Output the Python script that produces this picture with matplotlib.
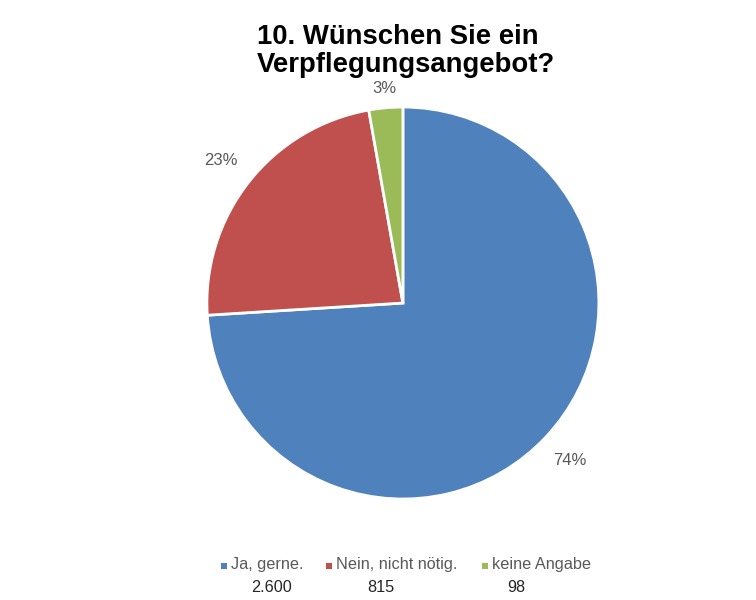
import numpy as np
import matplotlib.pyplot as plt
from matplotlib.patches import Rectangle

plt.rcParams['font.family'] = ['Liberation Sans', 'DejaVu Sans']

# data
categories = ['Ja, gerne.', 'Nein, nicht nötig.', 'keine Angabe']
counts = [2600, 815, 98]
count_labels = ['2.600', '815', '98']
colors = ['#4F81BD', '#C0504D', '#9BBB59']

fig = plt.figure(figsize=(7.56, 6.0), dpi=100)
ax = fig.add_axes([0.533 - 0.2593, 0.495 - 0.3267, 0.5185, 0.6533])

wedges, _ = ax.pie(counts, colors=colors, startangle=90, counterclock=False,
                   radius=1.0, wedgeprops=dict(edgecolor='white', linewidth=2))
ax.set_xlim(-1, 1)
ax.set_ylim(-1, 1)
ax.set_aspect('equal')
ax.axis('off')

# percentage labels outside the slices
total = sum(counts)
label_dist = [1.17, 1.18, 1.10]
for w, c, d in zip(wedges, counts, label_dist):
    ang = np.deg2rad((w.theta1 + w.theta2) / 2)
    ax.text(d * np.cos(ang), d * np.sin(ang), '%d%%' % round(100 * c / total),
            ha='center', va='center', fontsize=12, color='#595959')

fig.text(0.340, 0.960, '10. Wünschen Sie ein\nVerpflegungsangebot?', ha='left', va='top',
         fontsize=19.8, fontweight='bold', color='black', linespacing=1.12)

# legend with counts underneath
marker_x = [221, 326, 482]
for mx, cat, col, cl, vx in zip(marker_x, categories, colors, count_labels, [271, 381, 516]):
    fig.patches.append(Rectangle((mx / 756, 1 - 569 / 600), 6 / 756, 6 / 600,
                                 transform=fig.transFigure, facecolor=col, edgecolor='none'))
    fig.text((mx + 10) / 756, 1 - 565 / 600, cat, ha='left', va='center',
             fontsize=11.7, color='#595959')
    fig.text(vx / 756, 1 - 587 / 600, cl, ha='center', va='center',
             fontsize=11.7, color='#262626')

fig.savefig('out.png', dpi=100)
